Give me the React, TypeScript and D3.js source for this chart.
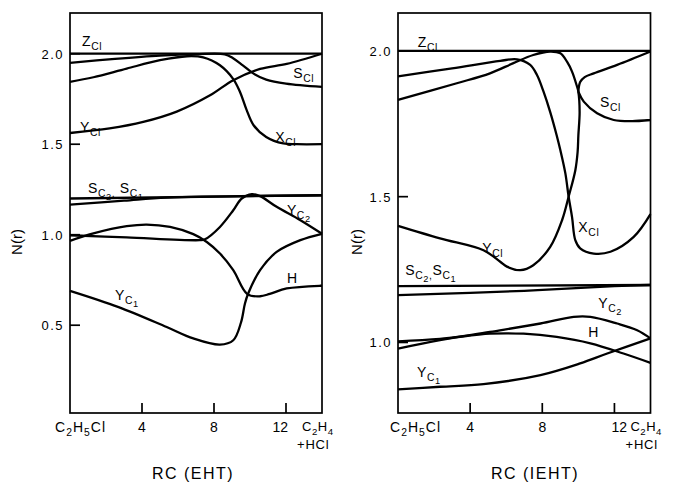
import React from 'react';
import * as d3 from 'd3';

type Pt = [number, number];

// ---- left panel: RC (EHT) ----
const ehtZcl: Pt[] = [[0, 2.0], [14, 2.0]];
const ehtScl: Pt[] = [[0, 1.95], [2.5, 1.972], [5, 1.99], [7, 1.998], [8.6, 1.997], [9.06, 1.975], [9.6, 1.936], [10.2, 1.89], [10.9, 1.857], [12.0, 1.835], [14, 1.817]];
const ehtXcl: Pt[] = [[0, 1.845], [1.3, 1.87], [3.15, 1.918], [5, 1.964], [6.5, 1.986], [7.4, 1.98], [8.33, 1.936], [9.07, 1.86], [9.44, 1.79], [9.81, 1.69], [10.2, 1.605], [10.9, 1.54], [11.85, 1.504], [12.6, 1.5], [14, 1.5]];
const ehtYcl: Pt[] = [[0, 1.562], [2.2, 1.587], [4.07, 1.623], [5.93, 1.68], [7.78, 1.77], [9.07, 1.854], [10.56, 1.916], [12.04, 1.944], [14, 2.0]];
const ehtSc2: Pt[] = [[0, 1.2], [14, 1.218]];
const ehtSc1: Pt[] = [[0, 1.166], [3, 1.188], [5.4, 1.205], [14, 1.218]];
const ehtH: Pt[] = [[0, 0.966], [1.3, 1.007], [3.15, 1.047], [4.26, 1.056], [5.56, 1.043], [6.85, 1.003], [7.6, 0.96], [8.33, 0.896], [9.07, 0.804], [9.85, 0.672], [10.56, 0.66], [11.1, 0.673], [12.04, 0.703], [13.9, 0.718], [14, 0.718]];
const ehtYc2: Pt[] = [[0, 0.997], [3.15, 0.985], [7.2, 0.97], [7.5, 0.975], [8.33, 1.043], [9.07, 1.135], [9.54, 1.2], [10.1, 1.224], [10.56, 1.213], [11.48, 1.154], [12.8, 1.08], [14, 1.005]];
const ehtYc1: Pt[] = [[0, 0.69], [2.7, 0.6], [5.37, 0.49], [6.85, 0.427], [8.33, 0.393], [9.07, 0.417], [9.5, 0.515], [9.72, 0.62], [9.9, 0.675], [10.56, 0.804], [11.48, 0.905], [12.8, 0.97], [14, 1.005]];

// ---- right panel: RC (IEHT) ----
const iehtZcl: Pt[] = [[0, 2.0], [14, 2.0]];
const iehtXcl: Pt[] = [[0, 1.913], [3, 1.94], [5.67, 1.966], [6.6, 1.971], [7.33, 1.952], [7.7, 1.918], [8.07, 1.86], [8.44, 1.79], [8.8, 1.71], [9.0, 1.66], [9.28, 1.58], [9.46, 1.5], [9.65, 1.43], [9.83, 1.351], [10.1, 1.323], [10.85, 1.305], [11.78, 1.311], [13.07, 1.362], [14, 1.44]];
const iehtYcl: Pt[] = [[0, 1.832], [3.26, 1.889], [5.1, 1.923], [6.4, 1.958], [7.5, 1.986], [8.44, 1.998], [9.0, 1.992], [9.37, 1.963], [9.65, 1.929], [9.9, 1.883], [10.0, 1.86], [10.07, 1.79], [10.0, 1.71], [9.96, 1.654], [9.83, 1.59], [9.46, 1.5], [9.1, 1.42], [8.44, 1.328], [7.5, 1.265], [6.78, 1.248], [6.04, 1.26], [5.67, 1.277], [4.74, 1.316], [2.33, 1.357], [0, 1.4]];
const iehtSclUp: Pt[] = [[10.0, 1.86], [10.1, 1.893], [10.35, 1.91], [10.85, 1.923], [12.15, 1.952], [14, 1.998]];
const iehtSclDown: Pt[] = [[10.0, 1.86], [10.3, 1.826], [11.04, 1.786], [11.96, 1.763], [13, 1.759], [14, 1.763]];
const iehtSc2: Pt[] = [[0, 1.193], [14, 1.197]];
const iehtSc1: Pt[] = [[0, 1.162], [7, 1.177], [12, 1.193], [14, 1.197]];
const iehtYc2: Pt[] = [[0, 0.979], [2.33, 1.008], [5.1, 1.036], [7.9, 1.065], [9.74, 1.088], [10.67, 1.088], [12.15, 1.065], [13.26, 1.042], [14, 1.014]];
const iehtH: Pt[] = [[0, 1.004], [2.33, 1.012], [5.1, 1.03], [6.96, 1.03], [8.8, 1.019], [10.67, 0.997], [12.5, 0.962], [14, 0.93]];
const iehtYc1: Pt[] = [[0, 0.839], [2.33, 0.848], [4.74, 0.857], [7.9, 0.888], [10.1, 0.928], [11.6, 0.962], [14, 1.014]];

const xTicks = [4, 8, 12];
const ehtYTicks = [0.5, 1.0, 1.5, 2.0];
const iehtYTicks = [1.0, 1.5, 2.0];

// label parts: [text, level] 0 = normal, 1 = subscript, 2 = sub-subscript
type Part = [string, number];
type Lab = { x: number; y: number; parts: Part[] };

const ehtLabels: Lab[] = [
  { x: 0.67, y: 2.041, parts: [['Z', 0], ['Cl', 1]] },
  { x: 12.4, y: 1.865, parts: [['S', 0], ['Cl', 1]] },
  { x: 11.4, y: 1.511, parts: [['X', 0], ['Cl', 1]] },
  { x: 0.56, y: 1.566, parts: [['Y', 0], ['Cl', 1]] },
  { x: 1.0, y: 1.229, parts: [['S', 0], ['C', 1], ['2', 2], [',', 1], [' S', 0], ['C', 1], ['1', 2]] },
  { x: 12.05, y: 1.108, parts: [['Y', 0], ['C', 1], ['2', 2]] },
  { x: 12.05, y: 0.732, parts: [['H', 0]] },
  { x: 2.5, y: 0.638, parts: [['Y', 0], ['C', 1], ['1', 2]] },
];

const iehtLabels: Lab[] = [
  { x: 1.1, y: 2.014, parts: [['Z', 0], ['Cl', 1]] },
  { x: 11.2, y: 1.808, parts: [['S', 0], ['Cl', 1]] },
  { x: 10.0, y: 1.379, parts: [['X', 0], ['Cl', 1]] },
  { x: 4.67, y: 1.307, parts: [['Y', 0], ['Cl', 1]] },
  { x: 0.4, y: 1.231, parts: [['S', 0], ['C', 1], ['2', 2], [',', 1], ['S', 0], ['C', 1], ['1', 2]] },
  { x: 11.1, y: 1.118, parts: [['Y', 0], ['C', 1], ['2', 2]] },
  { x: 10.55, y: 1.018, parts: [['H', 0]] },
  { x: 1.05, y: 0.881, parts: [['Y', 0], ['C', 1], ['1', 2]] },
];

const FONT = '"Liberation Sans", Arial, sans-serif';

function Label({ x, y, parts, size = 14, ls = 0.6 }: { x: number; y: number; parts: Part[]; size?: number; ls?: number }) {
  let cur = 0;
  return (
    <text x={x} y={y} fontSize={size} fontFamily={FONT} letterSpacing={ls}>
      {parts.map(([t, lvl], i) => {
        const shift = lvl === 0 ? 0 : lvl === 1 ? size * 0.28 : size * 0.5;
        const dy = shift - cur;
        cur = shift;
        const fs = lvl === 0 ? size : lvl === 1 ? size * 0.74 : size * 0.66;
        return (
          <tspan key={i} dy={dy} fontSize={fs} style={{ whiteSpace: 'pre' }}>
            {t}
          </tspan>
        );
      })}
    </text>
  );
}

type PanelProps = {
  left: number;
  right: number;
  yDomain: [number, number];
  yTicks: number[];
  curves: Pt[][];
  labels: Lab[];
  title: string;
  titleX: number;
  c2h5Off: number;
  twelveAnchor: 'end' | 'start';
  twelveOff: number;
  nrOff: number;
};

function Panel(p: PanelProps) {
  const top = 13;
  const bottom = 413;
  const x = d3.scaleLinear().domain([0, 14]).range([p.left, p.right]);
  const y = d3.scaleLinear().domain(p.yDomain).range([bottom, top]);
  const line = d3
    .line<Pt>()
    .x((d) => x(d[0]))
    .y((d) => y(d[1]))
    .curve(d3.curveCatmullRom.alpha(0.5));
  const tickY = 432;
  return (
    <g>
      {p.curves.map((c, i) => (
        <path key={i} d={line(c) || ''} fill="none" stroke="#000" strokeWidth={2.3} strokeLinejoin="round" />
      ))}
      <rect x={p.left} y={top} width={p.right - p.left} height={bottom - top} fill="none" stroke="#000" strokeWidth={1.7} />
      {p.yTicks.map((t) => (
        <g key={t}>
          <line x1={p.left} x2={p.left + 10} y1={y(t)} y2={y(t)} stroke="#000" strokeWidth={1.7} />
          <text x={p.left - 6} y={y(t) + 5} textAnchor="end" fontSize={13} fontFamily={FONT} letterSpacing={1.5}>
            {t.toFixed(1)}
          </text>
        </g>
      ))}
      {xTicks.map((t) => (
        <line key={t} x1={x(t)} x2={x(t)} y1={bottom} y2={bottom - 10} stroke="#000" strokeWidth={1.7} />
      ))}
      {xTicks.slice(0, 2).map((t) => (
        <text key={t} x={x(t)} y={tickY} textAnchor="middle" fontSize={14} fontFamily={FONT}>
          {t}
        </text>
      ))}
      <text x={x(12) + p.twelveOff} y={tickY} textAnchor={p.twelveAnchor} fontSize={14} fontFamily={FONT}>
        12
      </text>
      <Label x={x(0) + p.c2h5Off} y={tickY} size={14} ls={1} parts={[['C', 0], ['2', 1], ['H', 0], ['5', 1], ['Cl', 0]]} />
      <Label x={x(12) + 16} y={tickY - 1} size={13} ls={0.5} parts={[['C', 0], ['2', 1], ['H', 0], ['4', 1]]} />
      <Label x={p.right - 25} y={449} size={13} ls={0.8} parts={[['+HCl', 0]]} />
      {p.labels.map((l, i) => (
        <Label key={i} x={x(l.x)} y={y(l.y)} parts={l.parts} />
      ))}
      <text x={p.titleX} y={479} textAnchor="middle" fontSize={16} fontFamily={FONT} letterSpacing={1.5}>
        {p.title}
      </text>
      <text
        transform={`translate(${p.left + p.nrOff},242) rotate(-90)`}
        textAnchor="middle"
        fontSize={15}
        fontFamily={FONT}
      >
        N(r)
      </text>
    </g>
  );
}

export default function App() {
  return (
    <svg width={676} height={483} style={{ position: 'absolute', left: 0, top: 0, background: '#fff' }}>
      <rect width={676} height={483} fill="#fff" />
      <Panel
        left={70}
        right={322}
        yDomain={[0.015, 2.225]}
        yTicks={ehtYTicks}
        curves={[ehtZcl, ehtScl, ehtXcl, ehtYcl, ehtSc2, ehtSc1, ehtH, ehtYc2, ehtYc1]}
        labels={ehtLabels}
        title="RC (EHT)"
        titleX={193}
        c2h5Off={-15}
        twelveAnchor="end"
        twelveOff={2}
        nrOff={-48}
      />
      <Panel
        left={398}
        right={650.5}
        yDomain={[0.758, 2.13]}
        yTicks={iehtYTicks}
        curves={[iehtZcl, iehtXcl, iehtYcl, iehtSclUp, iehtSclDown, iehtSc2, iehtSc1, iehtYc2, iehtH, iehtYc1]}
        labels={iehtLabels}
        title="RC (IEHT)"
        titleX={535}
        c2h5Off={-8}
        twelveAnchor="start"
        twelveOff={-3}
        nrOff={-36}
      />
    </svg>
  );
}
